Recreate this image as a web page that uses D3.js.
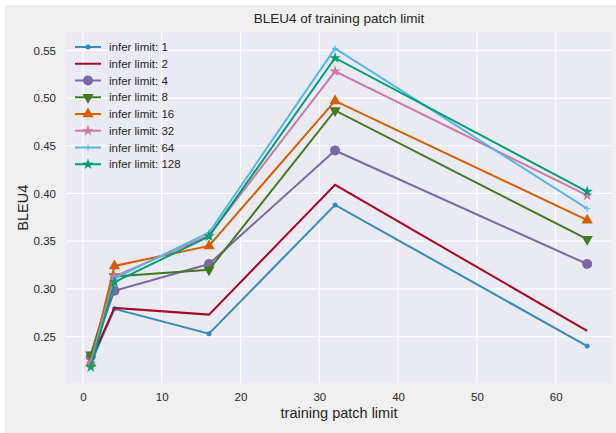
<!DOCTYPE html>
<html>
<head>
<meta charset="utf-8">
<script src="https://cdn.jsdelivr.net/npm/d3@7"></script>
<style>
  body { margin: 0; background: #ffffff; }
  text { font-family: "Liberation Sans", Arial, sans-serif; fill: #262626; }
</style>
</head>
<body>
<div id="vis"></div>
<script>
const FRAME_WIDTH = 616;
const FRAME_HEIGHT = 433;
const MARGINS = {left: 66, right: 4, top: 32.5, bottom: 50};

// data
const trainLimits = [1, 4, 16, 32, 64];
const seriesNames = ["infer limit: 1", "infer limit: 2", "infer limit: 4", "infer limit: 8",
                     "infer limit: 16", "infer limit: 32", "infer limit: 64", "infer limit: 128"];
const lim1   = [0.222, 0.279, 0.253, 0.388, 0.240];
const lim2   = [0.225, 0.280, 0.273, 0.409, 0.256];
const lim4   = [0.229, 0.298, 0.326, 0.445, 0.326];
const lim8   = [0.231, 0.313, 0.320, 0.487, 0.352];
const lim16  = [0.222, 0.324, 0.345, 0.497, 0.372];
const lim32  = [0.222, 0.313, 0.356, 0.528, 0.398];
const lim64  = [0.220, 0.311, 0.359, 0.552, 0.384];
const lim128 = [0.218, 0.307, 0.355, 0.542, 0.402];
const allSeries = [lim1, lim2, lim4, lim8, lim16, lim32, lim64, lim128];
const xTicks = [0, 10, 20, 30, 40, 50, 60];
const yTicks = [0.25, 0.30, 0.35, 0.40, 0.45, 0.50, 0.55];

const COLORS = ["#348ABD", "#A60628", "#7A68A6", "#467821", "#D55E00", "#CC79A7", "#56B4E9", "#009E73"];
const MARKERS = ["point", "none", "circle", "tridown", "triup", "star", "plus", "star"];

const VIS_WIDTH = FRAME_WIDTH - MARGINS.left - MARGINS.right;
const VIS_HEIGHT = FRAME_HEIGHT - MARGINS.top - MARGINS.bottom;

const svg = d3.select("#vis")
  .append("svg")
    .attr("width", FRAME_WIDTH)
    .attr("height", FRAME_HEIGHT);

// figure background (white edge on top/left)
svg.append("rect")
  .attr("x", 5).attr("y", 5)
  .attr("width", FRAME_WIDTH - 5).attr("height", FRAME_HEIGHT - 5)
  .attr("fill", "#f0f0f0");

// matplotlib style 5% margins
const allVals = allSeries.flat();
const yMin = d3.min(allVals), yMax = d3.max(allVals);
const yPad = (yMax - yMin) * 0.05;
const xPad = (d3.max(trainLimits) - d3.min(trainLimits)) * 0.05;

const X_SCALE = d3.scaleLinear()
  .domain([d3.min(trainLimits) - xPad, d3.max(trainLimits) + xPad])
  .range([MARGINS.left, MARGINS.left + VIS_WIDTH]);

const Y_SCALE = d3.scaleLinear()
  .domain([yMin - yPad, yMax + yPad])
  .range([MARGINS.top + VIS_HEIGHT, MARGINS.top]);

svg.append("rect")
  .attr("x", MARGINS.left).attr("y", MARGINS.top)
  .attr("width", VIS_WIDTH).attr("height", VIS_HEIGHT)
  .attr("fill", "#eaeaf2");

// grid
svg.append("g")
  .selectAll("line")
  .data(xTicks)
  .enter()
  .append("line")
    .attr("x1", d => X_SCALE(d)).attr("x2", d => X_SCALE(d))
    .attr("y1", MARGINS.top).attr("y2", MARGINS.top + VIS_HEIGHT)
    .attr("stroke", "#ffffff").attr("stroke-width", 1.2);

svg.append("g")
  .selectAll("line")
  .data(yTicks)
  .enter()
  .append("line")
    .attr("x1", MARGINS.left).attr("x2", MARGINS.left + VIS_WIDTH)
    .attr("y1", d => Y_SCALE(d)).attr("y2", d => Y_SCALE(d))
    .attr("stroke", "#ffffff").attr("stroke-width", 1.2);

// axes
const xAxis = svg.append("g")
  .attr("transform", `translate(0, ${MARGINS.top + VIS_HEIGHT})`)
  .call(d3.axisBottom(X_SCALE).tickValues(xTicks).tickSize(0).tickPadding(10).tickFormat(d3.format("d")));
const yAxis = svg.append("g")
  .attr("transform", `translate(${MARGINS.left}, 0)`)
  .call(d3.axisLeft(Y_SCALE).tickValues(yTicks).tickSize(0).tickPadding(10).tickFormat(d3.format(".2f")));
[xAxis, yAxis].forEach(a => {
  a.select(".domain").remove();
  a.selectAll("text")
    .attr("font-family", "Liberation Sans, Arial, sans-serif")
    .attr("font-size", 11.5)
    .attr("fill", "#262626");
});

// labels
svg.append("text")
  .attr("x", MARGINS.left + VIS_WIDTH / 2).attr("y", 22.5)
  .attr("text-anchor", "middle").attr("font-size", 13.5)
  .text("BLEU4 of training patch limit");
svg.append("text")
  .attr("x", MARGINS.left + VIS_WIDTH / 2).attr("y", 418)
  .attr("text-anchor", "middle").attr("font-size", 14.5)
  .text("training patch limit");
svg.append("text")
  .attr("transform", `translate(28, ${MARGINS.top + VIS_HEIGHT / 2}) rotate(-90)`)
  .attr("text-anchor", "middle").attr("font-size", 14.5)
  .text("BLEU4");

// markers
function drawMarker(g, type, x, y, color) {
  if (type === "point") {
    g.append("circle").attr("cx", x).attr("cy", y).attr("r", 2.5).attr("fill", color);
  } else if (type === "circle") {
    g.append("circle").attr("cx", x).attr("cy", y).attr("r", 5).attr("fill", color);
  } else if (type === "triup" || type === "tridown") {
    const sym = d3.symbol().type(d3.symbolTriangle).size(55);
    g.append("path").attr("d", sym())
      .attr("transform", `translate(${x},${y}) rotate(${type === "tridown" ? 180 : 0})`)
      .attr("fill", color);
  } else if (type === "star") {
    g.append("path").attr("d", d3.symbol().type(d3.symbolStar).size(40)())
      .attr("transform", `translate(${x},${y})`).attr("fill", color);
  } else if (type === "plus") {
    g.append("path").attr("d", `M${x - 3},${y}H${x + 3}M${x},${y - 3}V${y + 3}`)
      .attr("stroke", color).attr("stroke-width", 1);
  }
}

const line = d3.line()
  .x((d, i) => X_SCALE(trainLimits[i]))
  .y(d => Y_SCALE(d));

const plot = svg.append("g");
allSeries.forEach((vals, s) => {
  const g = plot.append("g");
  g.append("path")
    .attr("d", line(vals))
    .attr("fill", "none")
    .attr("stroke", COLORS[s])
    .attr("stroke-width", 2);
  vals.forEach((v, i) => drawMarker(g, MARKERS[s], X_SCALE(trainLimits[i]), Y_SCALE(v), COLORS[s]));
});

// legend
const legend = svg.append("g");
seriesNames.forEach((name, s) => {
  const y = 47 + s * 16.75;
  legend.append("line")
    .attr("x1", 75).attr("x2", 101).attr("y1", y).attr("y2", y)
    .attr("stroke", COLORS[s]).attr("stroke-width", 2);
  drawMarker(legend, MARKERS[s], 88, y, COLORS[s]);
  legend.append("text")
    .attr("x", 109).attr("y", y + 4)
    .attr("font-size", 11.5)
    .text(name);
});
</script>
</body>
</html>
